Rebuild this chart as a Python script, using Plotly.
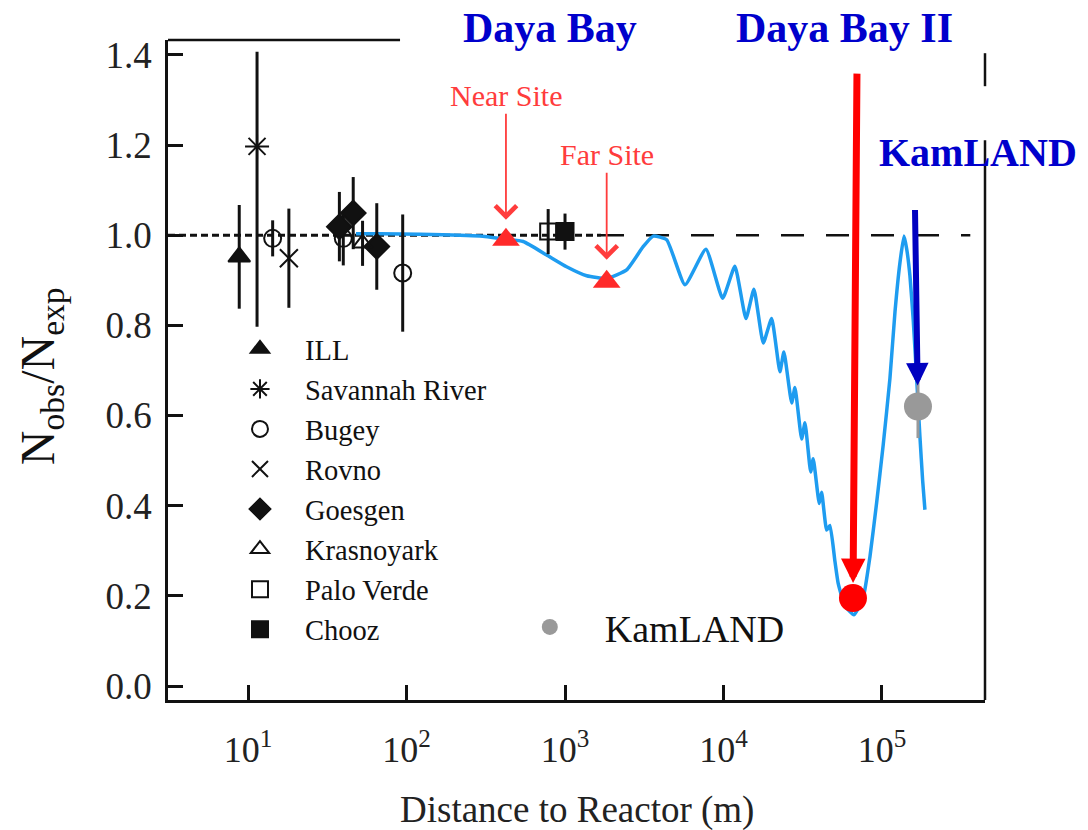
import math
import plotly.graph_objects as go

# ---------------- data ----------------
# Oscillation survival curve (distance in m, Nobs/Nexp)
curve_x = [48, 68, 122, 290, 424, 545, 766, 1023, 1370, 1832, 2449, 3119, 3604, 4379,
           5715, 7745, 9880, 11800, 13860, 15560, 17820, 20130, 22700, 24050, 26920,
           28240, 31120, 32660, 35480, 36830, 40180, 41600, 44770, 46970, 50470, 52970,
           58350, 66530, 76210, 83950, 92480, 101800, 112200, 120800, 129800, 137700,
           143100, 150100, 157500, 165500, 173500, 180600, 186600]
curve_y = [1.003, 1.003, 1.002, 0.998, 0.991, 0.986, 0.956, 0.930, 0.910, 0.904, 0.923,
           0.975, 0.998, 0.990, 0.890, 0.969, 0.860, 0.931, 0.815, 0.880, 0.761, 0.815,
           0.697, 0.741, 0.628, 0.662, 0.548, 0.584, 0.475, 0.504, 0.405, 0.430, 0.346,
           0.356, 0.277, 0.227, 0.178, 0.158, 0.197, 0.287, 0.406, 0.535, 0.682, 0.830,
           0.939, 0.998, 0.970, 0.910, 0.811, 0.682, 0.554, 0.455, 0.391]

ill_x, ill_y, ill_e = [8.8], [0.952], [0.115]
sav_x, sav_y, sav_ep, sav_em = [11.4], [1.197], [0.21], [0.40]
bugey_x, bugey_y, bugey_e = [14.3, 39.9, 94.6], [0.993, 0.993, 0.916], [0.04, 0.06, 0.13]
rovno_x, rovno_y, rovno_e = [18.1], [0.949], [0.11]
goes_x, goes_y, goes_e = [37.7, 46.1, 64.9], [1.019, 1.049, 0.975], [0.077, 0.08, 0.096]
kras_x, kras_y, kras_e = [52.8], [0.982], [0.05]
pv_x, pv_y, pv_e = [783], [1.008], [0.05]
chooz_x, chooz_y, chooz_e = [1000], [1.008], [0.04]

near_x, near_y = [424], [0.990]
far_x, far_y = [1832], [0.897]
dyb2_x, dyb2_y = [65600], [0.195]
kam_x, kam_y, kam_e = [168700], [0.62], [0.07]

x_tickvals = [10, 100, 1000, 10000, 100000]
x_ticktext = ["10<sup>1</sup>", "10<sup>2</sup>", "10<sup>3</sup>", "10<sup>4</sup>", "10<sup>5</sup>"]
y_tickvals = [0.0, 0.2, 0.4, 0.6, 0.8, 1.0, 1.2, 1.4]

FONT = "Liberation Serif"
BLACK = "#111111"

fig = go.Figure()

fig.add_trace(go.Scatter(x=curve_x, y=curve_y, mode="lines",
                         line=dict(color="#1e9cf0", width=3.5, shape="spline", smoothing=0.45),
                         showlegend=False, hoverinfo="skip"))


def exp_trace(name, x, y, symbol, e=None, ep=None, em=None, size=17, lw=2):
    if e is not None:
        err = dict(type="data", array=e, visible=True, thickness=3, width=0, color=BLACK)
    else:
        err = dict(type="data", symmetric=False, array=ep, arrayminus=em, visible=True,
                   thickness=3, width=0, color=BLACK)
    return go.Scatter(x=x, y=y, mode="markers", name=name, error_y=err,
                      marker=dict(symbol=symbol, size=size, color=BLACK,
                                  line=dict(color=BLACK, width=lw)))


fig.add_trace(exp_trace("ILL", ill_x, ill_y, "triangle-up", e=ill_e, size=19))
fig.add_trace(exp_trace("Savannah River", sav_x, sav_y, "asterisk-open", ep=sav_ep, em=sav_em, size=20))
fig.add_trace(exp_trace("Bugey", bugey_x, bugey_y, "circle-open", e=bugey_e, size=17))
fig.add_trace(exp_trace("Rovno", rovno_x, rovno_y, "x-thin-open", e=rovno_e, size=18))
fig.add_trace(exp_trace("Goesgen", goes_x, goes_y, "diamond", e=goes_e, size=19))
fig.add_trace(exp_trace("Krasnoyark", kras_x, kras_y, "triangle-up-open", e=kras_e, size=17))
fig.add_trace(exp_trace("Palo Verde", pv_x, pv_y, "square-open", e=pv_e, size=16))
fig.add_trace(exp_trace("Chooz", chooz_x, chooz_y, "square", e=chooz_e, size=17))

fig.add_trace(go.Scatter(x=near_x + far_x, y=near_y + far_y, mode="markers", showlegend=False,
                         marker=dict(symbol="triangle-up", size=24, color="#ff2a2a")))
fig.add_trace(go.Scatter(x=dyb2_x, y=dyb2_y, mode="markers", showlegend=False,
                         marker=dict(symbol="circle", size=28, color="#ff0000")))
fig.add_trace(go.Scatter(x=kam_x, y=kam_y, mode="markers", name="KamLAND", legend="legend2",
                         error_y=dict(type="data", array=kam_e, visible=True, thickness=3,
                                      width=0, color="#999999"),
                         marker=dict(symbol="circle", size=28, color="#999999")))

# reference line at 1.0
fig.add_shape(type="line", xref="paper", yref="y", x0=0, x1=0.53, y0=1, y1=1,
              line=dict(color=BLACK, width=3, dash="7px,4px"), layer="below")
fig.add_shape(type="line", xref="paper", yref="y", x0=0.53, x1=0.982, y0=1, y1=1,
              line=dict(color=BLACK, width=2.5, dash="23px,22px"), layer="below")

# frame pieces (top and right), partly hidden behind the labels
fig.add_shape(type="line", xref="paper", yref="paper", x0=0, x1=0.284, y0=1, y1=1,
              line=dict(color=BLACK, width=2.5))
fig.add_shape(type="line", xref="paper", yref="paper", x0=1, x1=1, y0=0, y1=0.848,
              line=dict(color=BLACK, width=2.5))
fig.add_shape(type="line", xref="paper", yref="paper", x0=1, x1=1, y0=0.930, y1=0.980,
              line=dict(color=BLACK, width=2.5))

RED = "#ff3c3c"
lg = math.log10
# Near / Far site arrows (annotation x on a log axis is given in log10 units)
fig.add_annotation(x=lg(near_x[0]), y=near_y[0], xref="x", yref="y", text="Near Site",
                   showarrow=True, ax=0, ay=-144, standoff=20, arrowhead=4, arrowsize=2.3,
                   arrowwidth=1.8, arrowcolor=RED, font=dict(family=FONT, size=30, color=RED))
fig.add_annotation(x=lg(far_x[0]), y=far_y[0], xref="x", yref="y", text="Far Site",
                   showarrow=True, ax=0, ay=-127, standoff=22, arrowhead=4, arrowsize=2.3,
                   arrowwidth=1.8, arrowcolor=RED, font=dict(family=FONT, size=30, color=RED))
# Daya Bay II arrow
fig.add_annotation(x=lg(dyb2_x[0]), y=dyb2_y[0], xref="x", yref="y", text="",
                   showarrow=True, ax=4, ay=-526, standoff=15, arrowhead=2, arrowsize=0.7,
                   arrowwidth=7, arrowcolor="#ff0000")
# KamLAND arrow
fig.add_annotation(x=lg(kam_x[0]), y=kam_y[0], xref="x", yref="y", text="",
                   showarrow=True, ax=-3, ay=-198, standoff=21, arrowhead=2, arrowsize=0.75,
                   arrowwidth=6, arrowcolor="#0000c0")

BLUE = "#0000cc"
fig.add_annotation(x=0.4676, y=1.018, xref="paper", yref="paper", text="<b>Daya Bay</b>",
                   showarrow=False, xanchor="center", yanchor="middle",
                   font=dict(family=FONT, size=42, color=BLUE))
fig.add_annotation(x=0.8286, y=1.018, xref="paper", yref="paper", text="<b>Daya Bay II</b>",
                   showarrow=False, xanchor="center", yanchor="middle",
                   font=dict(family=FONT, size=42, color=BLUE))
fig.add_annotation(x=0.868, y=0.830, xref="paper", yref="paper", text="<b>KamLAND</b>",
                   showarrow=False, xanchor="left", yanchor="middle",
                   font=dict(family=FONT, size=40, color=BLUE))

# axis titles
fig.add_annotation(x=-0.156, y=0.49, xref="paper", yref="paper",
                   text="N<sub>obs</sub>/N<sub>exp</sub>", textangle=-90, showarrow=False,
                   xanchor="center", yanchor="middle", font=dict(family=FONT, size=48, color=BLACK))
fig.add_annotation(x=0.5, y=-0.167, xref="paper", yref="paper",
                   text="Distance to Reactor (m)", showarrow=False,
                   xanchor="center", yanchor="middle", font=dict(family=FONT, size=37, color="#222"))

fig.update_layout(
    width=1088, height=830,
    margin=dict(l=168, r=103, t=40, b=130),
    paper_bgcolor="white", plot_bgcolor="white",
    font=dict(family=FONT, color=BLACK),
    xaxis=dict(type="log", range=[0.495, 5.65], tickvals=x_tickvals, ticktext=x_ticktext,
               ticks="inside", ticklen=15, tickwidth=2.5, tickcolor=BLACK,
               showline=True, linewidth=2.5, linecolor=BLACK, mirror=False,
               showgrid=False, zeroline=False, tickfont=dict(family=FONT, size=36, color="#222"),
               ticklabelstandoff=16),
    yaxis=dict(range=[-0.031, 1.433], tickvals=y_tickvals, tickformat=".1f",
               ticks="inside", ticklen=15, tickwidth=2.5, tickcolor=BLACK,
               showline=True, linewidth=2.5, linecolor=BLACK, mirror=False,
               showgrid=False, zeroline=False, tickfont=dict(family=FONT, size=37, color="#222"),
               ticklabelstandoff=6),
    legend=dict(x=0.0575, y=0.570, xanchor="left", yanchor="top", bgcolor="rgba(255,255,255,0)",
                font=dict(family=FONT, size=28.5, color=BLACK), itemwidth=80, tracegroupgap=0),
    legend2=dict(x=0.400, y=0.158, xanchor="left", yanchor="top", bgcolor="rgba(255,255,255,0)",
                 font=dict(family=FONT, size=38, color=BLACK), itemwidth=100),
    showlegend=True,
)

fig.write_html("out.html")
